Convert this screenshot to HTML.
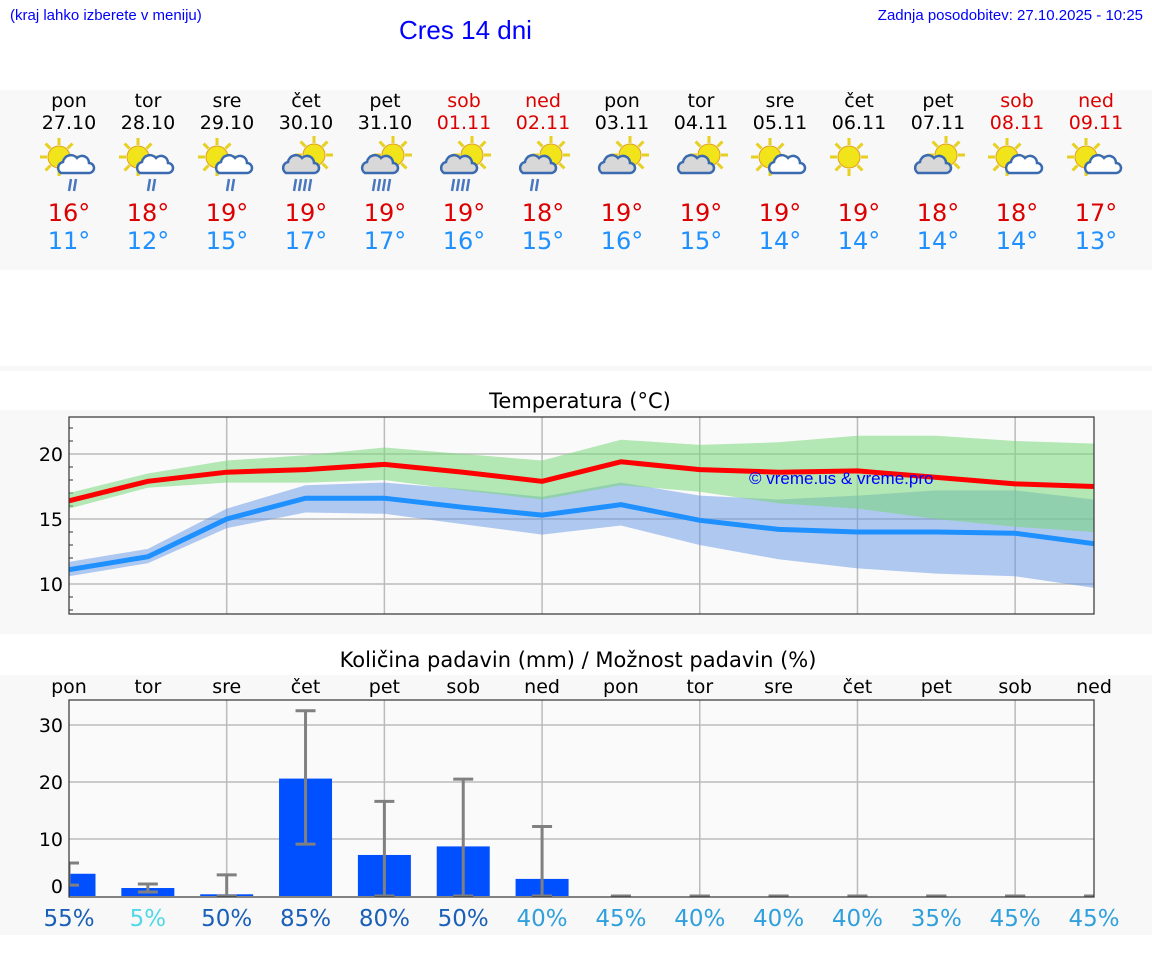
<!DOCTYPE html>
<html><head><meta charset="utf-8"><style>
body{margin:0;width:1152px;height:975px;background:#fff;font-family:"DejaVu Sans","Liberation Sans",sans-serif;overflow:hidden;position:relative}
.abs{position:absolute}
</style></head><body>
<div class="abs" style="left:10px;top:7px;font-size:15px;color:#00f;font-family:'Liberation Sans',sans-serif">(kraj lahko izberete v meniju)</div>
<div class="abs" style="left:399px;top:15px;font-size:26px;color:#00f;font-family:'Liberation Sans',sans-serif">Cres 14 dni</div>
<div class="abs" style="right:9px;top:7px;font-size:15px;color:#00f;font-family:'Liberation Sans',sans-serif">Zadnja posodobitev: 27.10.2025 - 10:25</div>
<div class="abs" style="left:0;top:90px;width:1152px;height:180px;background:#f8f8f8"></div>
<div class="abs" style="left:0;top:366px;width:1152px;height:5px;background:#f8f8f8"></div>
<div class="abs" style="left:0;top:410px;width:1152px;height:224px;background:#f8f8f8"></div>
<div class="abs" style="left:0;top:675px;width:1152px;height:260px;background:#f8f8f8"></div>
<svg id="s" class="abs" style="left:0;top:0" width="1152" height="975"></svg>
<script>
const dayNames=["pon","tor","sre","čet","pet","sob","ned","pon","tor","sre","čet","pet","sob","ned"];
const dates=["27.10","28.10","29.10","30.10","31.10","01.11","02.11","03.11","04.11","05.11","06.11","07.11","08.11","09.11"];
const iconRain=[2,2,2,4,4,4,2,0,0,0,0,0,0,0];
const iconCloud=[1,1,1,2,2,2,2,2,2,1,0,2,1,1];
const hiLabels=[16,18,19,19,19,19,18,19,19,19,19,18,18,17];
const loLabels=[11,12,15,17,17,16,15,16,15,14,14,14,14,13];
const tMax=[16.4,17.9,18.6,18.8,19.2,18.6,17.9,19.4,18.8,18.6,18.7,18.2,17.7,17.5];
const tMaxHi=[17.0,18.5,19.5,19.9,20.5,20.0,19.5,21.1,20.7,20.9,21.4,21.4,21.0,20.8];
const tMaxLo=[15.8,17.4,17.8,17.8,18.0,17.2,16.5,17.6,17.1,16.2,15.8,15.0,14.4,14.0];
const tMin=[11.1,12.1,15.0,16.6,16.6,15.9,15.3,16.1,14.9,14.2,14.0,14.0,13.9,13.1];
const tMinHi=[11.7,12.7,15.8,17.6,17.8,17.3,16.7,17.8,16.8,16.5,16.8,17.2,17.2,16.5];
const tMinLo=[10.6,11.6,14.3,15.5,15.4,14.6,13.8,14.5,13.0,11.9,11.2,10.8,10.6,9.7];
const rain=[3.9,1.4,0.3,20.6,7.2,8.7,3.0,0,0,0,0,0,0,0];
const rainHi=[5.8,2.1,3.7,32.5,16.6,20.5,12.2,0,0,0,0,0,0,0];
const rainLo=[1.9,0.7,0,9.1,0,0,0,0,0,0,0,0,0,0];
const chance=[55,5,50,85,80,50,40,45,40,40,40,35,45,45];
const tTicks=[10,15,20];
const rTicks=[0,10,20,30];

const S=document.getElementById('s');const NS='http://www.w3.org/2000/svg';
function el(t,a,p){const e=document.createElementNS(NS,t);for(const k in a)e.setAttribute(k,a[k]);(p||S).appendChild(e);return e;}
const X0=69,X1=1094,DX=(X1-X0)/13;
const xd=i=>X0+i*DX;
const ty=v=>519-(v-15)*13;
const ry=v=>896-v*5.7;
const xc=i=>i*79+69;
for(let i=0;i<14;i++){
 const we=(i==5||i==6||i==12||i==13);
 const g=el('g',{});
 
 
 let t=el('text',{x:xc(i),y:107,'text-anchor':'middle','font-size':19,fill:we?'#d00':'#000'},g);t.textContent=dayNames[i];
 t=el('text',{x:xc(i),y:129,'text-anchor':'middle','font-size':19,fill:we?'#d00':'#000'},g);t.textContent=dates[i];
 const cx=xc(i),cy=160;
 const sx=iconCloud[i]==2?cx+8:cx-10, sy=iconCloud[i]==2?cy-5:cy-3;
 for(let k=0;k<8;k++){const a=k*Math.PI/4;el('line',{x1:sx+Math.cos(a)*12,y1:sy+Math.sin(a)*12,x2:sx+Math.cos(a)*19,y2:sy+Math.sin(a)*19,stroke:'#e6d020','stroke-width':3},g);}
 el('circle',{cx:sx,cy:sy,r:11,fill:'#f2e41a',stroke:'#e0a020','stroke-width':1},g);
 if(iconCloud[i]>0){
  const ox=iconCloud[i]==2?cx-6:cx+6, oy=cy+5, fill=iconCloud[i]==2?'#d8d8d8':'#fff';
  el('path',{d:`M${ox-14} ${oy+8} a6 6 0 0 1 2-11 a8 8 0 0 1 14-4 a7 7 0 0 1 12 5 a5 5 0 0 1 0 10 z`,fill:fill,stroke:'#3a6ab0','stroke-width':2.5},g);
  for(let r=0;r<iconRain[i];r++)el('line',{x1:ox-4+r*5,y1:oy+14,x2:ox-6+r*5,y2:oy+26,stroke:'#4a78c0','stroke-width':2.5},g);
 }
 t=el('text',{x:xc(i),y:221,'text-anchor':'middle','font-size':24,fill:'#d00'},g);t.textContent=hiLabels[i]+'°';
 t=el('text',{x:xc(i),y:249,'text-anchor':'middle','font-size':24,fill:'#1e90ff'},g);t.textContent=loLabels[i]+'°';
}
let t=el('text',{x:580,y:408,'text-anchor':'middle','font-size':21});t.textContent='Temperatura (°C)';

el('rect',{x:X0,y:417,width:X1-X0,height:197,fill:'#fafafa'});
for(let i=2;i<13;i+=2)el('line',{x1:xd(i),y1:417,x2:xd(i),y2:614,stroke:'#bbb','stroke-width':1.5});
for(let v=8;v<=22;v++){el('line',{x1:X0,y1:ty(v),x2:X0+4,y2:ty(v),stroke:'#333','stroke-width':1});}
tTicks.forEach(v=>{el('line',{x1:X0,y1:ty(v),x2:X1,y2:ty(v),stroke:'#bbb','stroke-width':1.5});const tt=el('text',{x:X0-6,y:ty(v)+7,'text-anchor':'end','font-size':19});tt.textContent=v;});
function band(hi,lo,fill,name){let d='';hi.forEach((v,i)=>d+=(i?'L':'M')+xd(i)+' '+ty(v));for(let i=lo.length-1;i>=0;i--)d+='L'+xd(i)+' '+ty(lo[i]);const p=el('path',{d:d+'Z',fill:fill});}
function line(a,c,name){const p=el('polyline',{points:a.map((v,i)=>xd(i)+','+ty(v)).join(' '),fill:'none',stroke:c,'stroke-width':5});}
band(tMinHi,tMinLo,'rgba(100,150,230,0.5)','min-temp-range');
band(tMaxHi,tMaxLo,'rgba(120,215,120,0.55)','max-temp-range');
line(tMax,'#f00','max-temp-line');line(tMin,'#1e90ff','min-temp-line');
t=el('text',{x:749,y:484,'font-size':17,fill:'#00f','font-family':'Liberation Sans'});t.textContent='© vreme.us & vreme.pro';

el('rect',{x:X0,y:417,width:X1-X0,height:197,fill:'none',stroke:'#333','stroke-width':1.2});
t=el('text',{x:578,y:667,'text-anchor':'middle','font-size':21});t.textContent='Količina padavin (mm) / Možnost padavin (%)';

for(let i=0;i<14;i++){const tt=el('text',{x:xd(i),y:693,'text-anchor':'middle','font-size':19});tt.textContent=dayNames[i];}
el('rect',{x:X0,y:700,width:X1-X0,height:197,fill:'#fafafa'});
const cp=el('clipPath',{id:'cp'});el('rect',{x:X0,y:700,width:X1-X0,height:197},cp);
for(let i=2;i<13;i+=2)el('line',{x1:xd(i),y1:700,x2:xd(i),y2:897,stroke:'#bbb','stroke-width':1.5});
rTicks.forEach(v=>{if(v>0)el('line',{x1:X0,y1:ry(v),x2:X1,y2:ry(v),stroke:'#bbb','stroke-width':1.5});const tt=el('text',{x:X0-6,y:ry(v)+(v?7:-3),'text-anchor':'end','font-size':19});tt.textContent=v;});
const gb=el('g',{'clip-path':'url(#cp)'});
for(let i=0;i<14;i++){
 const b=el('rect',{x:xd(i)-26.5,y:ry(rain[i]),width:53,height:ry(0)-ry(rain[i]),fill:'#0050ff'},gb);
 
 const e=el('g',{},gb);
 
 el('line',{x1:xd(i),y1:ry(rainHi[i]),x2:xd(i),y2:ry(rainLo[i]),stroke:'#808080','stroke-width':3},e);
 el('line',{x1:xd(i)-10,y1:ry(rainHi[i]),x2:xd(i)+10,y2:ry(rainHi[i]),stroke:'#808080','stroke-width':3},e);
 el('line',{x1:xd(i)-10,y1:ry(rainLo[i]),x2:xd(i)+10,y2:ry(rainLo[i]),stroke:'#808080','stroke-width':3},e);
}
el('rect',{x:X0,y:700,width:X1-X0,height:197,fill:'none',stroke:'#333','stroke-width':1.2});
for(let i=0;i<14;i++){
 const c=chance[i];const col=c<=10?'#50d8e8':(c>=50?'#1a60b8':'#30a0dc');
 const tt=el('text',{x:xd(i),y:926,'text-anchor':'middle','font-size':23,fill:col});tt.textContent=c+'%';
 
}
</script>
</body></html>
